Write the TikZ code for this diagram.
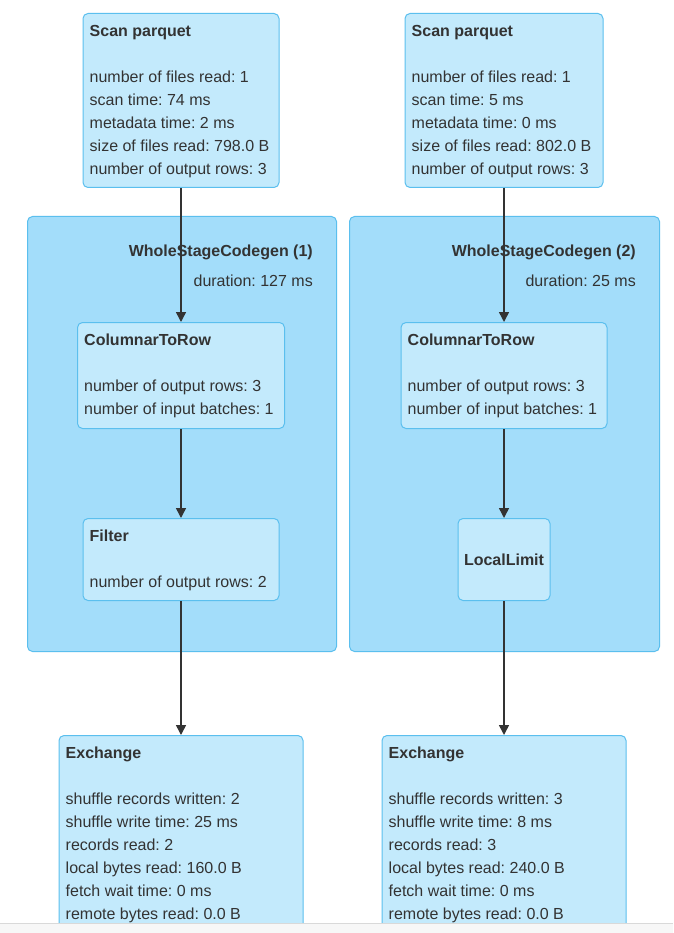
\documentclass[tikz,border=0pt]{standalone}
\usepackage{fontspec}
\setmainfont{Liberation Sans}
\usetikzlibrary{arrows.meta,calc}
\frenchspacing
\definecolor{nodefill}{HTML}{C3EAFC}
\definecolor{clusterfill}{HTML}{A3DDFA}
\definecolor{boxline}{HTML}{5BBFEE}
\definecolor{textcol}{HTML}{333333}
\definecolor{edgecol}{HTML}{333333}
\tikzset{
  opnode/.style={draw=boxline, fill=nodefill, rounded corners=5pt, line width=1pt, inner sep=0pt, anchor=north},
  cluster/.style={draw=boxline, fill=clusterfill, rounded corners=5pt, line width=1pt, inner sep=0pt, anchor=north west},
  txt/.style={inner sep=0pt, anchor=north west, align=left, text=textcol, font=\fontsize{16}{23}\selectfont\frenchspacing},
  ttl/.style={inner sep=0pt, text=textcol, font=\fontsize{16}{23}\selectfont\bfseries},
  lbl/.style={inner sep=0pt, anchor=base east, text=textcol, font=\fontsize{16}{23}\selectfont\frenchspacing},
  flow/.style={draw=edgecol, line width=1.5pt, -{Triangle[length=10pt,width=10pt]}}
}
\begin{document}
\begin{tikzpicture}[x=1pt,y=-1pt]
\useasboundingbox[fill=white] (0,0) rectangle (673,933);

% clusters
\node[cluster, minimum width=309pt, minimum height=435pt] (wscgA) at (27,216) {};
\node[cluster, minimum width=310pt, minimum height=435pt] (wscgB) at (349,216) {};
\node[ttl, anchor=base east] (wscgAt) at ($(wscgA.north east)+(-24,40)$) {WholeStageCodegen (1)};
\node[lbl] (wscgAd) at ($(wscgA.north east)+(-24,70.5)$) {duration: 127 ms};
\node[ttl, anchor=base east] (wscgBt) at ($(wscgB.north east)+(-24,40)$) {WholeStageCodegen (2)};
\node[lbl] (wscgBd) at ($(wscgB.north east)+(-24,70.5)$) {duration: 25 ms};

% left column
\node[opnode, minimum width=196pt, minimum height=174pt] (scanA) at (181,13) {};
\node[txt] (scanAt) at ($(scanA.north west)+(7,11)$) {\rule{0pt}{12pt}\textbf{Scan parquet}\\[23pt]
number of files read: 1\\ scan time: 74 ms\\ metadata time: 2 ms\\ size of files read: 798.0 B\\ number of output rows: 3};

\node[opnode, minimum width=207pt, minimum height=106pt] (ctrA) at (181,322) {};
\node[txt] (ctrAt) at ($(ctrA.north west)+(7,11)$) {\rule{0pt}{12pt}\textbf{ColumnarToRow}\\[23pt]
number of output rows: 3\\ number of input batches: 1};

\node[opnode, minimum width=196pt, minimum height=82pt] (filtA) at (181,518) {};
\node[txt] (filtAt) at ($(filtA.north west)+(7,11)$) {\rule{0pt}{12pt}\textbf{Filter}\\[23pt]
number of output rows: 2};

\node[opnode, minimum width=244pt, minimum height=200pt] (exA) at (181,735) {};
\node[txt] (exAt) at ($(exA.north west)+(7,11)$) {\rule{0pt}{12pt}\textbf{Exchange}\\[23pt]
shuffle records written: 2\\ shuffle write time: 25 ms\\ records read: 2\\ local bytes read: 160.0 B\\ fetch wait time: 0 ms\\ remote bytes read: 0.0 B};

% right column
\node[opnode, minimum width=198pt, minimum height=174pt] (scanB) at (504,13) {};
\node[txt] (scanBt) at ($(scanB.north west)+(7,11)$) {\rule{0pt}{12pt}\textbf{Scan parquet}\\[23pt]
number of files read: 1\\ scan time: 5 ms\\ metadata time: 0 ms\\ size of files read: 802.0 B\\ number of output rows: 3};

\node[opnode, minimum width=206pt, minimum height=106pt] (ctrB) at (504,322) {};
\node[txt] (ctrBt) at ($(ctrB.north west)+(7,11)$) {\rule{0pt}{12pt}\textbf{ColumnarToRow}\\[23pt]
number of output rows: 3\\ number of input batches: 1};

\node[opnode, minimum width=92pt, minimum height=82pt] (limB) at (504,518) {};
\node[ttl, anchor=base] (limBt) at ($(limB.center)+(0,6)$) {LocalLimit};

\node[opnode, minimum width=244pt, minimum height=200pt] (exB) at (504,735) {};
\node[txt] (exBt) at ($(exB.north west)+(7,11)$) {\rule{0pt}{12pt}\textbf{Exchange}\\[23pt]
shuffle records written: 3\\ shuffle write time: 8 ms\\ records read: 3\\ local bytes read: 240.0 B\\ fetch wait time: 0 ms\\ remote bytes read: 0.0 B};

% connectors
\draw[flow] (scanA.south) -- (ctrA.north);
\draw[flow] (ctrA.south) -- (filtA.north);
\draw[flow] (filtA.south) -- (exA.north);
\draw[flow] (scanB.south) -- (ctrB.north);
\draw[flow] (ctrB.south) -- (limB.north);
\draw[flow] (limB.south) -- (exB.north);

% bottom edge of the screenshot
\fill[black!3] (0,923) rectangle (673,933);
\draw[black!15, line width=1.5pt] (0,923.5) -- (673,923.5);
\end{tikzpicture}
\end{document}
